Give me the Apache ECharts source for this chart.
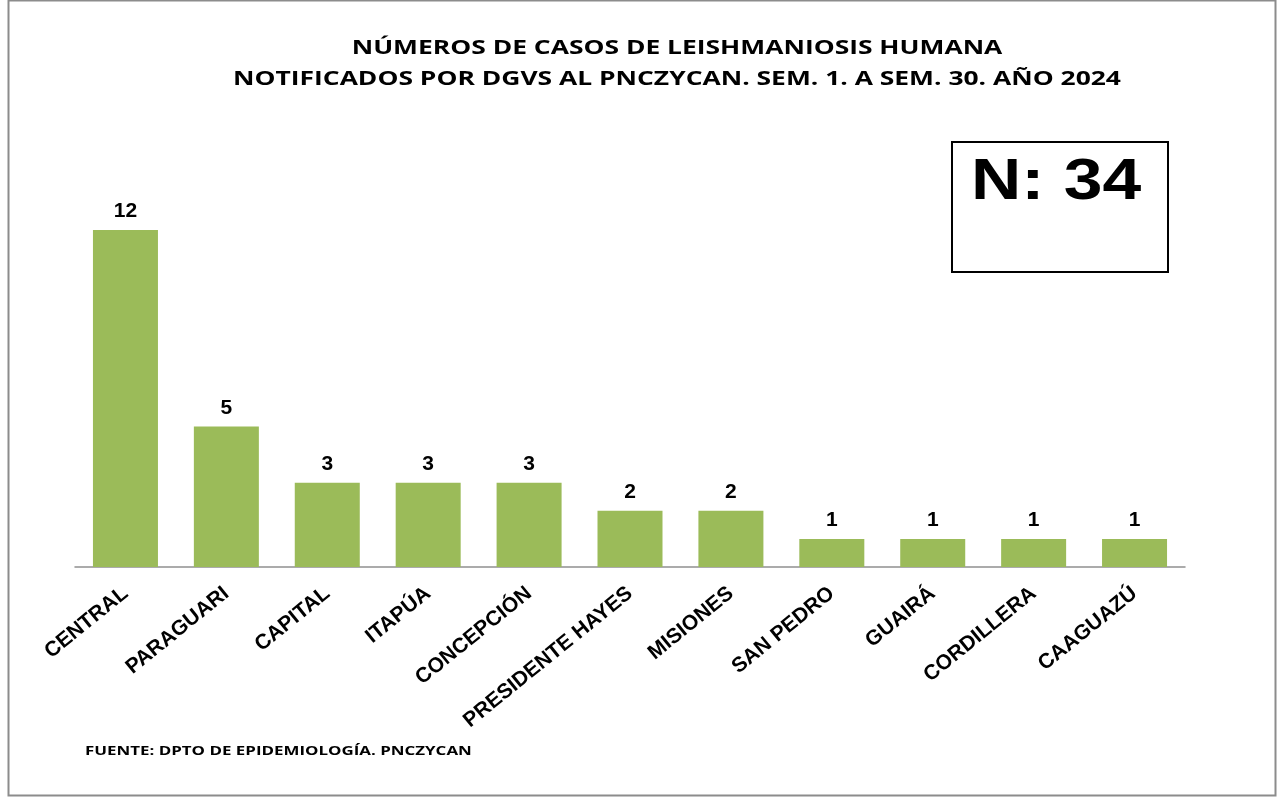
<!DOCTYPE html>
<html>
<head>
<meta charset="utf-8">
<script src="https://cdn.jsdelivr.net/npm/echarts@6/dist/echarts.min.js"></script>
<style>
  html, body { margin: 0; padding: 0; background: #fff; }
  #chart { width: 1283px; height: 801px; }
</style>
</head>
<body>
<div id="chart"></div>
<script>
const departamentos = ['CENTRAL', 'PARAGUARI', 'CAPITAL', 'ITAPÚA', 'CONCEPCIÓN', 'PRESIDENTE HAYES',
  'MISIONES', 'SAN PEDRO', 'GUAIRÁ', 'CORDILLERA', 'CAAGUAZÚ'];
const casos = [12, 5, 3, 3, 3, 2, 2, 1, 1, 1, 1];
const totalCasos = 34;
const tituloLineas = ['NÚMEROS DE CASOS DE LEISHMANIOSIS HUMANA',
  'NOTIFICADOS POR DGVS AL PNCZYCAN. SEM. 1. A SEM. 30. AÑO 2024'];
const fuente = 'FUENTE: DPTO DE EPIDEMIOLOGÍA. PNCZYCAN';

// the original image is a bit stretched horizontally, texts get a scaleX
const titleText = (txt, y) => ({
  type: 'text',
  x: 677,
  y: y,
  scaleX: 1.39,
  style: {
    text: txt,
    fontFamily: 'Open Sans',
    fontWeight: 'bold',
    fontSize: 19,
    fill: '#000',
    align: 'center',
    verticalAlign: 'middle'
  }
});

const chart = echarts.init(document.getElementById('chart'));
chart.setOption({
  backgroundColor: '#fff',
  animation: false,
  graphic: [
    {
      type: 'rect',
      shape: { x: 8.5, y: 0.5, width: 1267, height: 795 },
      style: { fill: 'none', stroke: '#8c8c8c', lineWidth: 2 }
    },
    titleText(tituloLineas[0], 49),
    titleText(tituloLineas[1], 80),
    {
      type: 'rect',
      shape: { x: 952, y: 142, width: 216, height: 130 },
      style: { fill: '#fff', stroke: '#000', lineWidth: 2 }
    },
    {
      type: 'text',
      x: 1056,
      y: 183,
      scaleX: 1.2,
      style: {
        text: 'N: ' + totalCasos,
        fontFamily: 'Liberation Sans',
        fontWeight: 'bold',
        fontSize: 58,
        fill: '#000',
        align: 'center',
        verticalAlign: 'middle'
      }
    },
    {
      type: 'text',
      x: 85,
      y: 751,
      scaleX: 1.3,
      style: {
        text: fuente,
        fontFamily: 'Open Sans',
        fontWeight: 'bold',
        fontSize: 13,
        fill: '#000',
        verticalAlign: 'middle'
      }
    }
  ],
  grid: {
    left: 75,
    right: 98,
    top: 230,
    bottom: 234
  },
  xAxis: {
    type: 'category',
    data: departamentos,
    axisLine: { lineStyle: { color: '#909090', width: 1.5 } },
    axisTick: { show: false },
    axisLabel: {
      interval: 0,
      rotate: 39,
      margin: 24,
      fontFamily: 'Liberation Sans',
      fontWeight: 'bold',
      fontSize: 21,
      color: '#000'
    }
  },
  yAxis: {
    type: 'value',
    min: 0,
    max: 12,
    show: false,
    splitLine: { show: false }
  },
  series: [{
    type: 'bar',
    data: casos,
    barWidth: 65,
    itemStyle: { color: '#9BBB59' },
    label: {
      show: true,
      position: 'top',
      distance: 8,
      fontFamily: 'Liberation Sans',
      fontWeight: 'bold',
      fontSize: 21,
      color: '#000'
    }
  }]
});
</script>
</body>
</html>
